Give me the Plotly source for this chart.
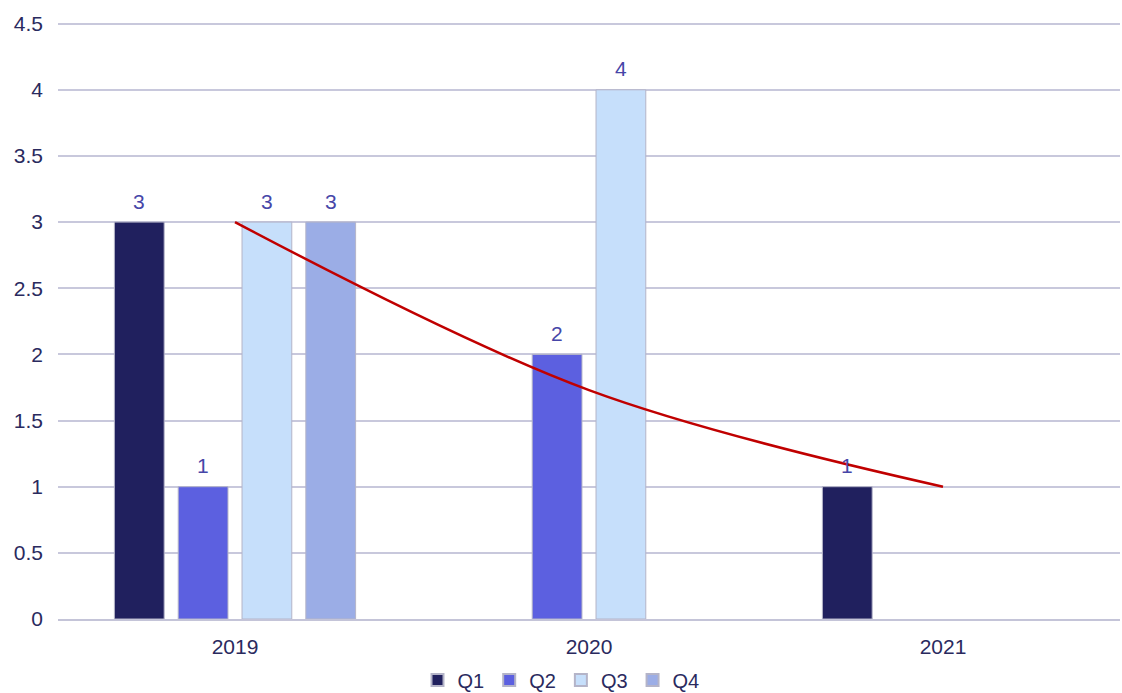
import plotly.graph_objects as go

years = ["2019", "2020", "2021"]
q1 = [3, None, 1]
q2 = [1, 2, None]
q3 = [3, 4, None]
q4 = [3, None, None]
trend = [3, 1.73, 1]

series = [("Q1", q1, "#20205e"), ("Q2", q2, "#5c60e0"), ("Q3", q3, "#c6dffb"), ("Q4", q4, "#9badE6")]
slot_px = 64  # pixel spacing between bars in a group

fig = go.Figure()
for i, (name, vals, col) in enumerate(series):
    fig.add_trace(go.Bar(
        x=years, y=vals, name=name,
        marker=dict(color=col, line=dict(color="#b4b4c8", width=1)),
    ))
    for j, v in enumerate(vals):
        if v is None:
            continue
        fig.add_annotation(x=j, y=v, text=str(v), showarrow=False,
                           xshift=(i - 1.5) * slot_px, yshift=21, yanchor="middle",
                           font=dict(family="Liberation Sans, Arial", size=21, color="#4646a8"))

fig.add_trace(go.Scatter(
    x=years, y=trend, mode="lines", showlegend=False,
    line=dict(color="#c00000", width=2.5, shape="spline", smoothing=1),
    hoverinfo="skip", cliponaxis=False,
))

ymax = 4.52
plot_h = 595 * ymax / 4.5
fig.update_layout(
    width=1122, height=693,
    margin=dict(l=58, r=2, t=693 - 74 - plot_h, b=74, autoexpand=False),
    paper_bgcolor="white", plot_bgcolor="white",
    barmode="group", bargap=0.279, bargroupgap=0.22,
    font=dict(family="Liberation Sans, Arial", size=21, color="#2a2a5e"),
    legend=dict(orientation="h", x=0.5, xanchor="center", xref="container",
                y=-(680 - 619) / plot_h, yanchor="middle",
                font=dict(size=20, color="#2a2a5e"), itemwidth=30, traceorder="normal",
                tracegroupgap=0, itemsizing="constant"),
    xaxis=dict(type="category", range=[-0.5, 2.5], showgrid=False, showline=True,
               linecolor="#c4c4d8", linewidth=2,
               ticks="", ticklabelstandoff=8, tickfont=dict(size=21)),
    yaxis=dict(range=[0, ymax], tickvals=[0, 0.5, 1, 1.5, 2, 2.5, 3, 3.5, 4, 4.5],
               showgrid=True, gridcolor="#c8c8dc", gridwidth=2,
               zeroline=False, showline=False, ticks="", ticklabelstandoff=14,
               tickfont=dict(size=21)),
)

fig.write_html("out.html")
